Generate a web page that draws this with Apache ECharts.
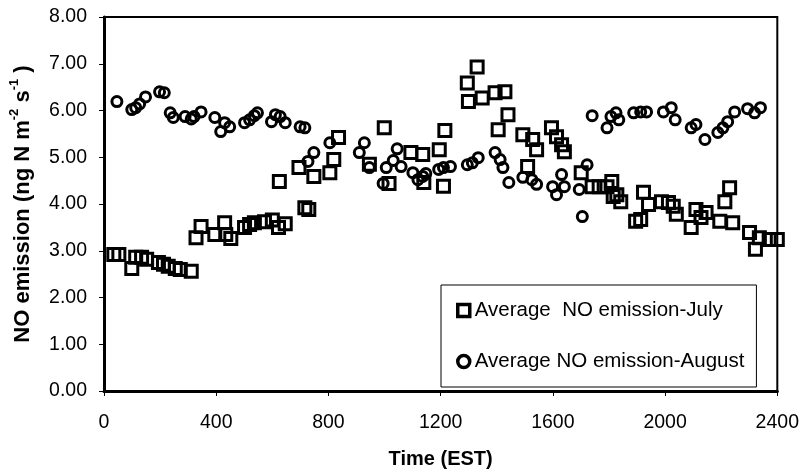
<!DOCTYPE html>
<html>
<head>
<meta charset="utf-8">
<script src="https://cdn.jsdelivr.net/npm/echarts@6/dist/echarts.min.js"></script>
<style>html,body{margin:0;padding:0;background:#fff}#c{width:802px;height:474px}</style>
</head>
<body>
<div id="c"></div>
<script>
// Time (EST) values and NO emission values
var julyTime = [35,53,99,113,134,152,194,212,229,254,272,311,328,346,395,430,434,452,501,519,536,572,600,622,646,625,695,716,730,748,805,819,836,946,999,1016,1094,1136,1140,1195,1215,1210,1295,1299,1330,1348,1394,1405,1429,1440,1493,1510,1528,1542,1595,1613,1631,1641,1701,1740,1765,1793,1810,1815,1828,1842,1895,1913,1923,1941,1987,2012,2029,2040,2093,2110,2128,2146,2195,2213,2230,2241,2301,2322,2336,2371,2400];
var julyNO =   [2.92,2.92,2.62,2.86,2.86,2.82,2.75,2.71,2.67,2.62,2.60,2.56,3.28,3.52,3.35,3.60,3.35,3.26,3.50,3.56,3.60,3.62,3.66,3.50,3.58,4.48,4.78,3.92,3.88,4.59,4.67,4.95,5.42,4.85,5.63,4.44,5.10,5.06,4.46,5.16,5.57,4.38,6.59,6.19,6.93,6.27,6.38,5.59,6.40,5.91,5.48,4.80,5.38,5.16,5.63,5.44,5.27,5.12,4.67,4.37,4.37,4.37,4.48,4.16,4.20,4.05,3.63,3.67,4.25,3.99,4.05,4.03,3.95,3.78,3.50,3.88,3.71,3.82,3.63,4.05,4.35,3.60,3.39,3.03,3.28,3.24,3.24];
var augTime = [46,99,113,127,148,198,215,236,247,289,311,321,346,395,416,430,448,501,519,536,547,597,611,628,646,699,716,727,748,805,910,928,946,995,1006,1031,1045,1059,1101,1119,1136,1147,1193,1210,1235,1295,1313,1334,1394,1412,1422,1443,1493,1525,1542,1599,1613,1631,1641,1694,1705,1722,1740,1793,1807,1825,1835,1888,1913,1934,1994,2022,2036,2093,2110,2142,2188,2206,2223,2248,2294,2319,2340];
var augNO =   [6.19,6.02,6.06,6.14,6.29,6.40,6.38,5.95,5.85,5.87,5.82,5.87,5.97,5.85,5.55,5.74,5.65,5.74,5.80,5.89,5.95,5.76,5.91,5.87,5.74,5.65,5.63,4.91,5.10,5.31,5.10,5.31,4.78,4.44,4.78,4.93,5.18,4.80,4.67,4.52,4.59,4.65,4.74,4.78,4.80,4.84,4.88,4.99,5.10,4.95,4.78,4.46,4.57,4.52,4.42,4.37,4.20,4.63,4.37,4.31,3.73,4.84,5.89,5.63,5.87,5.95,5.80,5.95,5.97,5.97,5.97,6.06,5.80,5.63,5.70,5.38,5.53,5.63,5.76,5.97,6.04,5.95,6.06];
var seriesNames = ['Average  NO emission-July', 'Average NO emission-August'];
var xTicks = [0,400,800,1200,1600,2000,2400];

function pairs(t, v){ return t.map(function(x,i){ return [x, v[i]]; }); }

var chart = echarts.init(document.getElementById('c'), null, {renderer:'canvas'});
var font = 'Liberation Sans, Arial, sans-serif';
chart.setOption({
  animation:false,
  backgroundColor:'#fff',
  textStyle:{fontFamily:font, color:'#000'},
  grid:{left:100, right:22, top:17, bottom:82, show:true, borderColor:'#000', borderWidth:2, backgroundColor:'transparent'},
  xAxis:{
    type:'value', min:xTicks[0], max:xTicks[xTicks.length-1], interval:400,
    name:'Time (EST)', nameLocation:'middle', nameGap:58,
    nameTextStyle:{fontFamily:font, fontWeight:'bold', fontSize:20, color:'#000'},
    axisLine:{show:true, onZero:false, lineStyle:{color:'#000', width:3}},
    axisTick:{show:true, length:5, lineStyle:{color:'#000', width:1}},
    axisLabel:{fontFamily:font, fontSize:19.5, color:'#000', margin:22, formatter:function(v){return String(v);}},
    splitLine:{show:false}
  },
  yAxis:{
    type:'value', min:0, max:8, interval:1,
    name:'{b|NO emission (ng N m}{s|-2}{b| s}{s|-1}{b| )}', nameLocation:'middle', nameGap:70, nameRotate:90,
    nameTextStyle:{fontFamily:font, color:'#000',
      rich:{ b:{fontFamily:font, fontWeight:'bold', fontSize:22, color:'#000', verticalAlign:'bottom', lineHeight:26},
             s:{fontFamily:font, fontWeight:'bold', fontSize:13, color:'#000', verticalAlign:'top', lineHeight:26} }},
    axisLine:{show:true, onZero:false, lineStyle:{color:'#000', width:3}},
    axisTick:{show:true, length:5, lineStyle:{color:'#000', width:1}},
    axisLabel:{fontFamily:font, fontSize:19.5, color:'#000', margin:17, formatter:function(v){return v.toFixed(2);}},
    splitLine:{show:false}
  },
  legend:{
    orient:'vertical', left:441, top:285,
    padding:[15,12,15,15], itemGap:30, itemWidth:12, itemHeight:12,
    borderColor:'#000', borderWidth:1, backgroundColor:'#fff',
    textStyle:{fontFamily:font, fontSize:20.5, color:'#000', lineHeight:20},
    data:[
      {name:seriesNames[0], icon:'rect', itemStyle:{color:'#fff', borderColor:'#000', borderWidth:3.5}},
      {name:seriesNames[1], icon:'circle', itemStyle:{color:'#fff', borderColor:'#000', borderWidth:3.5}}
    ]
  },
  series:[
    {name:seriesNames[0], type:'scatter', symbol:'rect', symbolSize:12,
     itemStyle:{color:'transparent', borderColor:'#000', borderWidth:3, opacity:1},
     data:pairs(julyTime, julyNO)},
    {name:seriesNames[1], type:'scatter', symbol:'circle', symbolSize:10,
     itemStyle:{color:'transparent', borderColor:'#000', borderWidth:3, opacity:1},
     data:pairs(augTime, augNO)}
  ]
});
</script>
</body>
</html>
